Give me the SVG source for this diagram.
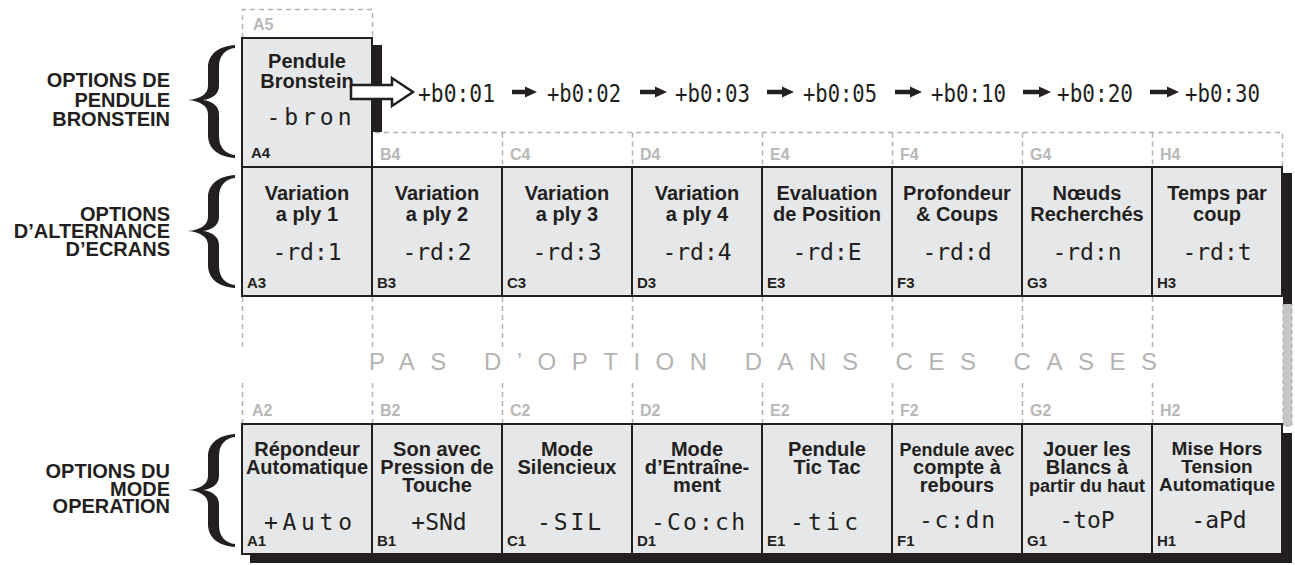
<svg xmlns="http://www.w3.org/2000/svg" width="1295" height="565" viewBox="0 0 1295 565">
<defs>
<style>
.t{font-family:"Liberation Sans",Arial,sans-serif;font-weight:bold;font-size:20px;fill:#231f20;text-anchor:middle}
.lbl{font-family:"Liberation Sans",Arial,sans-serif;font-weight:bold;font-size:15px;fill:#231f20}
.glbl{font-family:"Liberation Sans",Arial,sans-serif;font-weight:bold;font-size:16px;fill:#b8b8b8}
.lcd{font-family:"DejaVu Sans Mono",monospace;font-size:23px;fill:#231f20;text-anchor:middle}
.seq{font-family:"DejaVu Sans Mono",monospace;font-size:25px;fill:#231f20}
.side{font-family:"Liberation Sans",Arial,sans-serif;font-weight:bold;font-size:20px;fill:#231f20;text-anchor:end}
.cell{fill:#e6e7e8;stroke:#231f20;stroke-width:2}
.dash{stroke:#b3b3b3;stroke-width:1.5;stroke-dasharray:5 4;fill:none}
.shadow{fill:#231f20}
.brace{fill:#231f20}
.gray{font-family:"Liberation Sans",Arial,sans-serif;font-size:24px;fill:#b3b3b3;letter-spacing:15.5px}
.arr{stroke:#231f20;stroke-width:4.5;fill:none}
</style>
<marker id="ah" markerUnits="userSpaceOnUse" markerWidth="12" markerHeight="12" refX="1" refY="6" orient="auto" viewBox="0 0 12 12"><path d="M0,0.5 L12,6 L0,11.5 z" fill="#231f20"/></marker>
</defs>

<!-- side labels and braces -->
<g id="group-bronstein">
<path class="brace" d="M235,45 C220,46 208,53 208,68 L208,86 C208,94 200,99 188,100 C200,101 208,106 208,114 L208,135 C208,150 220,157 235,158 L235,155 C226,154 219,148 219,136 L219,114 C219,106 212,101 203,100 C212,99 219,94 219,86 L219,67 C219,55 226,49 235,48 Z"/>
<text class="side" x="170" y="87">OPTIONS DE</text>
<text class="side" x="170" y="106.5">PENDULE</text>
<text class="side" x="170" y="126">BRONSTEIN</text>
</g>
<g id="group-alternance">
<path class="brace" d="M235,175 C220,176 208,183 208,198 L208,217 C208,225 200,230 188,231 C200,232 208,237 208,245 L208,265 C208,280 220,287 235,288 L235,285 C226,284 219,278 219,266 L219,245 C219,237 212,232 203,231 C212,230 219,225 219,217 L219,197 C219,185 226,179 235,178 Z"/>
<text class="side" x="170" y="220.5">OPTIONS</text>
<text class="side" x="170" y="238">D’ALTERNANCE</text>
<text class="side" x="170" y="255.5">D’ECRANS</text>
</g>
<g id="group-operation">
<path class="brace" d="M235,434 C220,435 208,442 208,457 L208,476 C208,484 200,489 188,490 C200,491 208,496 208,504 L208,524 C208,539 220,546 235,547 L235,544 C226,543 219,537 219,525 L219,504 C219,496 212,491 203,490 C212,489 219,484 219,476 L219,456 C219,444 226,438 235,437 Z"/>
<text class="side" x="170" y="478">OPTIONS DU</text>
<text class="side" x="170" y="495.5">MODE</text>
<text class="side" x="170" y="513">OPERATION</text>
</g>

<!-- dashed empty cells -->
<g id="empty-cells">
<path class="dash" d="M242.5,38 V9.5 H372.5 V38"/>
<text class="glbl" x="253" y="30">A5</text>
<path class="dash" d="M375,132.5 H1282.5 V167 M502.5,132.5 V167 M632.5,132.5 V167 M762.5,132.5 V167 M892.5,132.5 V167 M1022.5,132.5 V167 M1152.5,132.5 V167"/>
<text class="glbl" x="380" y="160">B4</text>
<text class="glbl" x="510" y="160">C4</text>
<text class="glbl" x="640" y="160">D4</text>
<text class="glbl" x="770" y="160">E4</text>
<text class="glbl" x="900" y="160">F4</text>
<text class="glbl" x="1030" y="160">G4</text>
<text class="glbl" x="1160" y="160">H4</text>
<path class="dash" d="M242.5,297 V347 M242.5,383 V423 M372.5,297 V347 M372.5,383 V423 M502.5,297 V347 M502.5,383 V423 M632.5,297 V347 M632.5,383 V423 M762.5,297 V347 M762.5,383 V423 M892.5,297 V347 M892.5,383 V423 M1022.5,297 V347 M1022.5,383 V423 M1152.5,297 V347 M1152.5,383 V423"/>
<rect x="1283" y="304" width="9" height="122" fill="#c6c6c6" stroke="#a8a8a8" stroke-width="1" stroke-dasharray="4 3"/>
<text class="glbl" x="252" y="416">A2</text>
<text class="glbl" x="380" y="416">B2</text>
<text class="glbl" x="510" y="416">C2</text>
<text class="glbl" x="640" y="416">D2</text>
<text class="glbl" x="770" y="416">E2</text>
<text class="glbl" x="900" y="416">F2</text>
<text class="glbl" x="1030" y="416">G2</text>
<text class="glbl" x="1160" y="416">H2</text>
<text class="gray" x="369" y="370">PAS D’OPTION DANS CES CASES</text>
</g>

<!-- shadows -->
<g id="shadows">
<rect class="shadow" x="373" y="45" width="9" height="87"/>
<rect class="shadow" x="1283" y="173" width="9" height="131"/>
<rect class="shadow" x="1283" y="433" width="9" height="130"/>
<rect class="shadow" x="250" y="554" width="1042" height="9"/>
</g>

<!-- row 4 -->
<g id="A4">
<rect class="cell" x="242" y="38" width="130" height="129"/>
<text class="t" x="307" y="68">Pendule</text>
<text class="t" x="307" y="88">Bronstein</text>
<text class="lcd" x="309" y="125" textLength="85" lengthAdjust="spacing">-bron</text>
<text class="lbl" x="251" y="158">A4</text>
</g>

<!-- row 3 -->
<g id="A3"><rect class="cell" x="242" y="167" width="130" height="129"/>
<text class="t" x="307" y="200">Variation</text><text class="t" x="307" y="220.5">a ply 1</text>
<text class="lcd" x="307" y="260">-rd:1</text><text class="lbl" x="247" y="288">A3</text></g>
<g id="B3"><rect class="cell" x="372" y="167" width="130" height="129"/>
<text class="t" x="437" y="200">Variation</text><text class="t" x="437" y="220.5">a ply 2</text>
<text class="lcd" x="437" y="260">-rd:2</text><text class="lbl" x="377" y="288">B3</text></g>
<g id="C3"><rect class="cell" x="502" y="167" width="130" height="129"/>
<text class="t" x="567" y="200">Variation</text><text class="t" x="567" y="220.5">a ply 3</text>
<text class="lcd" x="567" y="260">-rd:3</text><text class="lbl" x="507" y="288">C3</text></g>
<g id="D3"><rect class="cell" x="632" y="167" width="130" height="129"/>
<text class="t" x="697" y="200">Variation</text><text class="t" x="697" y="220.5">a ply 4</text>
<text class="lcd" x="697" y="260">-rd:4</text><text class="lbl" x="637" y="288">D3</text></g>
<g id="E3"><rect class="cell" x="762" y="167" width="130" height="129"/>
<text class="t" x="827" y="200">Evaluation</text><text class="t" x="827" y="220.5">de Position</text>
<text class="lcd" x="827" y="260">-rd:E</text><text class="lbl" x="767" y="288">E3</text></g>
<g id="F3"><rect class="cell" x="892" y="167" width="130" height="129"/>
<text class="t" x="957" y="200">Profondeur</text><text class="t" x="957" y="220.5">&amp; Coups</text>
<text class="lcd" x="957" y="260">-rd:d</text><text class="lbl" x="897" y="288">F3</text></g>
<g id="G3"><rect class="cell" x="1022" y="167" width="130" height="129"/>
<text class="t" x="1087" y="200">Nœuds</text><text class="t" x="1087" y="220.5">Recherchés</text>
<text class="lcd" x="1087" y="260">-rd:n</text><text class="lbl" x="1027" y="288">G3</text></g>
<g id="H3"><rect class="cell" x="1152" y="167" width="130" height="129"/>
<text class="t" x="1217" y="200">Temps par</text><text class="t" x="1217" y="220.5">coup</text>
<text class="lcd" x="1217" y="260">-rd:t</text><text class="lbl" x="1157" y="288">H3</text></g>

<!-- row 1 -->
<g id="A1"><rect class="cell" x="242" y="424" width="130" height="130"/>
<text class="t" x="307" y="456">Répondeur</text><text class="t" x="307" y="474">Automatique</text>
<text class="lcd" x="308" y="530" textLength="88" lengthAdjust="spacing">+Auto</text><text class="lbl" x="247" y="546">A1</text></g>
<g id="B1"><rect class="cell" x="372" y="424" width="130" height="130"/>
<text class="t" x="437" y="456">Son avec</text><text class="t" x="437" y="474">Pression de</text><text class="t" x="437" y="492">Touche</text>
<text class="lcd" x="439" y="530">+SNd</text><text class="lbl" x="377" y="546">B1</text></g>
<g id="C1"><rect class="cell" x="502" y="424" width="130" height="130"/>
<text class="t" x="567" y="456">Mode</text><text class="t" x="567" y="474">Silencieux</text>
<text class="lcd" x="569" y="530" textLength="64" lengthAdjust="spacing">-SIL</text><text class="lbl" x="507" y="546">C1</text></g>
<g id="D1"><rect class="cell" x="632" y="424" width="130" height="130"/>
<text class="t" x="697" y="456">Mode</text><text class="t" x="697" y="474">d’Entraîne-</text><text class="t" x="697" y="492">ment</text>
<text class="lcd" x="698" y="530" textLength="94" lengthAdjust="spacing">-Co:ch</text><text class="lbl" x="637" y="546">D1</text></g>
<g id="E1"><rect class="cell" x="762" y="424" width="130" height="130"/>
<text class="t" x="827" y="456">Pendule</text><text class="t" x="827" y="474">Tic Tac</text>
<text class="lcd" x="824" y="530" textLength="68" lengthAdjust="spacing">-tic</text><text class="lbl" x="767" y="546">E1</text></g>
<g id="F1"><rect class="cell" x="892" y="424" width="130" height="130"/>
<text class="t" x="957" y="456" style="font-size:18px">Pendule avec</text><text class="t" x="957" y="474">compte à</text><text class="t" x="957" y="492">rebours</text>
<text class="lcd" x="957" y="528" textLength="76" lengthAdjust="spacing">-c:dn</text><text class="lbl" x="897" y="546">F1</text></g>
<g id="G1"><rect class="cell" x="1022" y="424" width="130" height="130"/>
<text class="t" x="1087" y="456">Jouer les</text><text class="t" x="1087" y="474">Blancs à</text><text class="t" x="1087" y="492" style="font-size:18px">partir du haut</text>
<text class="lcd" x="1087" y="528">-toP</text><text class="lbl" x="1027" y="546">G1</text></g>
<g id="H1"><rect class="cell" x="1152" y="424" width="130" height="130"/>
<text class="t" x="1217" y="455" style="font-size:19px">Mise Hors</text><text class="t" x="1217" y="473" style="font-size:19px">Tension</text><text class="t" x="1217" y="491" style="font-size:19px">Automatique</text>
<text class="lcd" x="1219" y="528">-aPd</text><text class="lbl" x="1157" y="546">H1</text></g>

<!-- time sequence -->
<g id="seq-01"><text class="seq" x="418" y="101.5" textLength="77" lengthAdjust="spacingAndGlyphs">+b0:01</text></g>
<g id="seq-02"><text class="seq" x="547" y="101.5" textLength="74" lengthAdjust="spacingAndGlyphs">+b0:02</text></g>
<g id="seq-03"><text class="seq" x="675" y="101.5" textLength="75" lengthAdjust="spacingAndGlyphs">+b0:03</text></g>
<g id="seq-05"><text class="seq" x="803" y="101.5" textLength="74" lengthAdjust="spacingAndGlyphs">+b0:05</text></g>
<g id="seq-10"><text class="seq" x="931" y="101.5" textLength="75" lengthAdjust="spacingAndGlyphs">+b0:10</text></g>
<g id="seq-20"><text class="seq" x="1057" y="101.5" textLength="76" lengthAdjust="spacingAndGlyphs">+b0:20</text></g>
<g id="seq-30"><text class="seq" x="1185" y="101.5" textLength="75" lengthAdjust="spacingAndGlyphs">+b0:30</text></g>

<!-- connectors -->
<g id="connectors">
<path d="M351,85 H392 V78 L413,92 L392,106 V99 H351 Z" fill="#ffffff" stroke="#231f20" stroke-width="2.5" stroke-linejoin="miter"/>
<line class="arr" x1="512" y1="92" x2="526" y2="92" marker-end="url(#ah)"/>
<line class="arr" x1="640" y1="92" x2="656" y2="92" marker-end="url(#ah)"/>
<line class="arr" x1="767" y1="92" x2="783" y2="92" marker-end="url(#ah)"/>
<line class="arr" x1="895" y1="92" x2="911" y2="92" marker-end="url(#ah)"/>
<line class="arr" x1="1023" y1="92" x2="1040" y2="92" marker-end="url(#ah)"/>
<line class="arr" x1="1150" y1="92" x2="1168" y2="92" marker-end="url(#ah)"/>
</g>
</svg>
